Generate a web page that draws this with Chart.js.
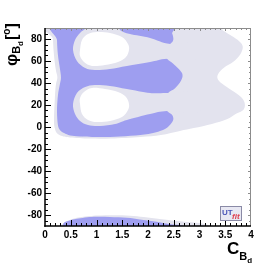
<!DOCTYPE html>
<html>
<head>
<meta charset="utf-8">
<script src="https://cdn.jsdelivr.net/npm/chart.js@4.4.0/dist/chart.umd.min.js"></script>
<style>
  html, body { margin: 0; padding: 0; background: #fff; }
  #grafico { display: block; }
</style>
</head>
<body>
<canvas id="grafico" width="279" height="268"></canvas>
<script>
// Contornos, pares [C_Bd, phi_Bd en grados]
const banda95Sup = [[0.155, 96], [3.25, 96], [3.45, 88], [3.62, 83], [3.77, 78], [3.84, 73], [3.79, 66],
  [3.65, 59], [3.48, 54], [3.36, 48], [3.36, 43], [3.48, 38], [3.67, 32], [3.82, 26.5], [3.88, 21],
  [3.85, 15.5], [3.71, 12], [3.53, 7], [3.24, 2.7], [2.89, -1], [2.62, -3.6], [2.25, -7.3], [1.85, -9.1],
  [1.28, -10.5], [0.87, -10.5], [0.49, -9.5], [0.33, -8.2], [0.23, -5.5], [0.19, -1], [0.175, 6],
  [0.19, 25], [0.21, 38], [0.24, 45], [0.21, 52], [0.175, 65], [0.155, 80]];
const banda95Inf = [[0.27, -96], [0.29, -90], [0.33, -88.5], [0.43, -85.5], [0.62, -82.5], [0.9, -80.8],
  [1.28, -80.3], [1.65, -80.6], [1.92, -81.8], [2.23, -83.6], [2.56, -85.5], [2.82, -86.6], [3.03, -87.5],
  [3.2, -90], [3.3, -96]];
const banda68Sup = [[0.233, 96], [2.37, 96], [2.47, 85], [2.49, 79], [2.43, 75.5], [2.25, 70], [2.37, 62],
  [2.49, 57.5], [2.66, 49], [2.64, 42], [2.52, 35], [2.39, 31], [2.25, 22], [2.37, 14.5], [2.47, 11],
  [2.49, 6.5], [2.43, 2], [2.33, -1.8], [2.14, -5], [1.85, -7.3], [1.46, -8.6], [1.07, -9.1], [0.68, -8.6],
  [0.49, -7.7], [0.37, -5.5], [0.29, -2.7], [0.25, 2], [0.233, 15], [0.252, 29], [0.29, 39], [0.31, 45],
  [0.29, 53], [0.252, 65], [0.233, 79]];
const banda68Inf = [[0.33, -96], [0.35, -90], [0.37, -87], [0.48, -85], [0.62, -83.4], [0.95, -81.6],
  [1.26, -81.8], [1.59, -82.6], [1.84, -84.1], [2.06, -85.5], [2.27, -87], [2.45, -88.5], [2.7, -90],
  [2.8, -96]];
const canalSup = [[0.544, 70], [0.583, 79], [0.68, 85.5], [0.8, 90], [0.9, 96], [1.4, 96], [1.456, 88.2],
  [1.65, 84.5], [2.04, 81], [2.43, 75.5], [3.0, 76], [3.0, 62], [2.37, 62], [2.04, 59], [1.59, 55.5],
  [1.26, 52.7], [0.97, 51.8], [0.78, 53.6], [0.62, 60]];
const canalInf = [[0.62, 30.9], [0.78, 36.4], [0.97, 38.2], [1.26, 37.3], [1.59, 34.5], [2.04, 30.9],
  [2.37, 30.9], [3.0, 31], [3.0, 14], [2.37, 14.5], [2.04, 11.8], [1.59, 6.4], [1.36, 2.7], [1.068, 0.9],
  [0.835, 1.8], [0.68, 5.5], [0.583, 11.8], [0.544, 20.9]];
const huecoSup = [[0.68, 70], [0.718, 79.1], [0.835, 84.5], [1.01, 86.4], [1.262, 85.5], [1.495, 81.8],
  [1.612, 75.5], [1.631, 70], [1.573, 63.6], [1.417, 59.1], [1.165, 56.4], [0.913, 55.5], [0.757, 59.1],
  [0.68, 64.5]];
const huecoInf = [[0.68, 20.9], [0.718, 11.8], [0.835, 6.4], [1.01, 4.5], [1.262, 5.5], [1.495, 9.1],
  [1.612, 15.5], [1.631, 20.9], [1.573, 27.3], [1.417, 31.8], [1.165, 34.5], [0.913, 35.5], [0.757, 31.8],
  [0.68, 26.4]];

const ticksX = [0, 0.5, 1, 1.5, 2, 2.5, 3, 3.5, 4];
const ticksY = [-80, -60, -40, -20, 0, 20, 40, 60, 80];

const azul = "#9e9ef0";
const gris = "#e3e3ee";
const blanco = "#ffffff";
const fuente = "'Liberation Sans', Arial, sans-serif";

function serie(puntos, color) {
  return {
    data: puntos.map(([x, y]) => ({ x, y })),
    backgroundColor: color,
    showLine: false,
    pointRadius: 0
  };
}

// Curva cerrada suave (Catmull-Rom) que pasa por los puntos ya escalados
function trazarCurva(ctx, pts) {
  const n = pts.length;
  ctx.beginPath();
  ctx.moveTo(pts[0].x, pts[0].y);
  for (let i = 0; i < n; i++) {
    const p0 = pts[(i - 1 + n) % n], p1 = pts[i], p2 = pts[(i + 1) % n], p3 = pts[(i + 2) % n];
    ctx.bezierCurveTo(p1.x + (p2.x - p0.x) / 6, p1.y + (p2.y - p0.y) / 6,
      p2.x - (p3.x - p1.x) / 6, p2.y - (p3.y - p1.y) / 6, p2.x, p2.y);
  }
  ctx.closePath();
}

function linea(ctx, x1, y1, x2, y2) {
  ctx.beginPath();
  ctx.moveTo(x1, y1);
  ctx.lineTo(x2, y2);
  ctx.stroke();
}

const rellenos = {
  id: "rellenos",
  beforeDatasetsDraw(chart) {
    const { ctx, chartArea: a } = chart;
    ctx.save();
    ctx.beginPath();
    ctx.rect(a.left, a.top, a.right - a.left, a.bottom - a.top);
    ctx.clip();
    chart.data.datasets.forEach((ds, i) => {
      trazarCurva(ctx, chart.getDatasetMeta(i).data);
      ctx.fillStyle = ds.backgroundColor;
      ctx.fill();
    });
    ctx.restore();
  },
  afterDatasetsDraw(chart) {
    const { ctx, chartArea: a, scales } = chart;
    const sx = scales.x, sy = scales.y;
    ctx.save();

    // marco superior y derecho
    ctx.strokeStyle = "#8c8c8c";
    ctx.lineWidth = 1;
    linea(ctx, a.left, a.top + 0.5, a.right, a.top + 0.5);
    linea(ctx, a.right - 0.5, a.top, a.right - 0.5, a.bottom);
    for (let k = 1; k < 40; k++) {
      const px = Math.round(sx.getPixelForValue(k / 10)) + 0.5;
      linea(ctx, px, a.top, px, a.top + (k % 5 === 0 ? 3 : 2));
    }
    for (let k = -17; k <= 17; k++) {
      const py = Math.round(sy.getPixelForValue(k * 5)) + 0.5;
      linea(ctx, a.right, py, a.right - ((k * 5) % 20 === 0 ? 3 : 2), py);
    }

    // ejes izquierdo e inferior
    ctx.strokeStyle = "#000";
    ctx.lineWidth = 1.5;
    linea(ctx, a.left, a.top, a.left, a.bottom + 0.75);
    linea(ctx, a.left - 0.75, a.bottom, a.right, a.bottom);
    ctx.lineWidth = 1;
    for (let k = 1; k < 40; k++) {
      const px = Math.round(sx.getPixelForValue(k / 10)) + 0.5;
      linea(ctx, px, a.bottom, px, a.bottom - (k % 5 === 0 ? 6 : 3));
    }
    for (let k = -17; k <= 17; k++) {
      const py = Math.round(sy.getPixelForValue(k * 5)) + 0.5;
      linea(ctx, a.left, py, a.left + ((k * 5) % 20 === 0 ? 6 : 3), py);
    }

    // título del eje y: phi_Bd [°]
    ctx.fillStyle = "#000";
    ctx.textBaseline = "alphabetic";
    ctx.translate(17, a.top + 38);
    ctx.rotate(-Math.PI / 2);
    let cx = 0;
    const trozo = (txt, tam, dy) => {
      ctx.font = "bold " + tam + "px " + fuente;
      ctx.fillText(txt, cx, dy);
      cx += ctx.measureText(txt).width;
    };
    trozo("\u03c6", 17, 0);
    trozo("B", 11, 3);
    trozo("d", 8, 6);
    cx += 1;
    trozo("[", 16, 0);
    trozo("o", 10, -7);
    trozo("]", 16, 0);
    ctx.setTransform(1, 0, 0, 1, 0, 0);

    // título del eje x: C_Bd
    let tx = a.right - 24;
    ctx.font = "bold 17px " + fuente;
    ctx.fillText("C", tx, 254);
    tx += ctx.measureText("C").width;
    ctx.font = "bold 11px " + fuente;
    ctx.fillText("B", tx, 260);
    tx += ctx.measureText("B").width;
    ctx.font = "bold 8px " + fuente;
    ctx.fillText("d", tx, 263);

    // logo UTfit
    const lx = a.right - 31, ly = a.bottom - 20;
    ctx.fillStyle = "#e8e8f3";
    ctx.fillRect(lx, ly, 22, 15);
    ctx.strokeStyle = "#8a8aa6";
    ctx.strokeRect(lx + 0.5, ly + 0.5, 21, 14);
    ctx.font = "bold 8px " + fuente;
    ctx.fillStyle = "#4a56b8";
    ctx.fillText("UT", lx + 2, ly + 9);
    ctx.font = "italic bold 8px " + fuente;
    ctx.fillStyle = "#e04050";
    ctx.fillText("fit", lx + 12, ly + 13);

    ctx.restore();
  }
};

new Chart(document.getElementById("grafico"), {
  type: "scatter",
  data: {
    datasets: [
      serie(banda95Sup, gris),
      serie(banda95Inf, gris),
      serie(banda68Sup, azul),
      serie(banda68Inf, azul),
      serie(canalSup, gris),
      serie(canalInf, gris),
      serie(huecoSup, blanco),
      serie(huecoInf, blanco)
    ]
  },
  options: {
    responsive: false,
    animation: false,
    events: [],
    layout: { padding: { left: 0, right: 28, top: 28, bottom: 0 } },
    plugins: { legend: { display: false }, tooltip: { enabled: false } },
    scales: {
      x: {
        type: "linear",
        min: 0,
        max: 4,
        grid: { display: false, drawTicks: false },
        border: { display: false },
        afterBuildTicks: (s) => { s.ticks = ticksX.map((v) => ({ value: v })); },
        afterFit: (s) => { s.height = 42; },
        ticks: {
          padding: 3,
          color: "#000",
          maxRotation: 0,
          autoSkip: false,
          font: { family: fuente, size: 10, weight: "bold" },
          callback: (v) => String(v)
        }
      },
      y: {
        type: "linear",
        min: -90,
        max: 90,
        grid: { display: false, drawTicks: false },
        border: { display: false },
        afterBuildTicks: (s) => { s.ticks = ticksY.map((v) => ({ value: v })); },
        afterFit: (s) => { s.width = 45; },
        ticks: {
          padding: 3,
          color: "#000",
          autoSkip: false,
          font: { family: fuente, size: 10, weight: "bold" },
          callback: (v) => String(v)
        }
      }
    }
  },
  plugins: [rellenos]
});
</script>
</body>
</html>
